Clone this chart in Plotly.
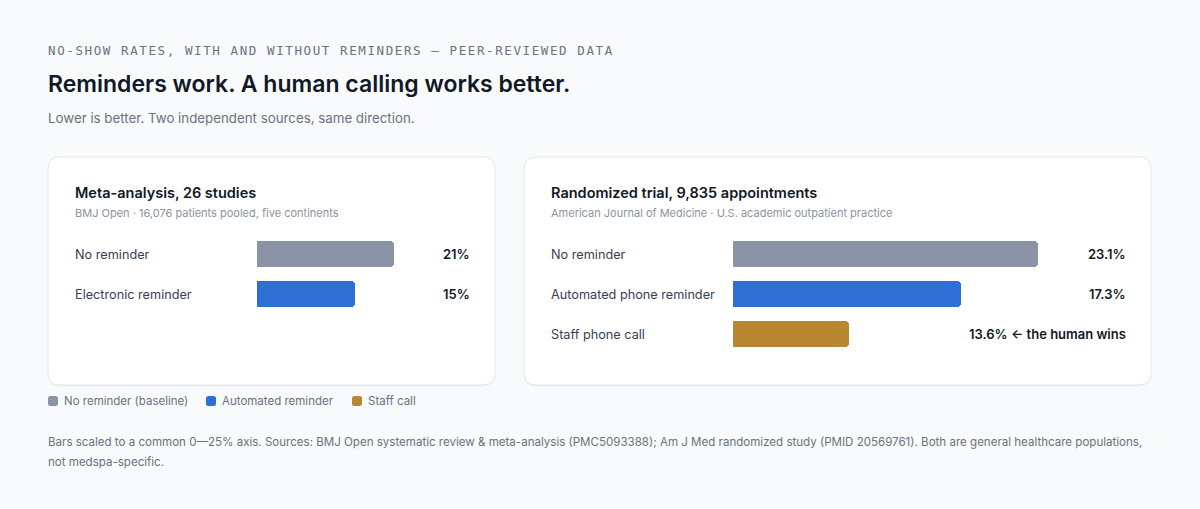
import plotly.graph_objects as go

# ---------------- data ----------------
eyebrow = "NO-SHOW RATES, WITH AND WITHOUT REMINDERS — PEER-REVIEWED DATA"
title = "Reminders work. A human calling works better."
subtitle = "Lower is better. Two independent sources, same direction."

meta_title = "Meta-analysis, 26 studies"
meta_source = "BMJ Open · 16,076 patients pooled, five continents"
meta_labels = ["No reminder", "Electronic reminder"]
meta_values = [21, 15]
meta_value_text = ["21%", "15%"]
meta_kinds = ["baseline", "automated"]

trial_title = "Randomized trial, 9,835 appointments"
trial_source = "American Journal of Medicine · U.S. academic outpatient practice"
trial_labels = ["No reminder", "Automated phone reminder", "Staff phone call"]
trial_values = [23.1, 17.3, 13.6]
trial_value_text = ["23.1%", "17.3%", "13.6% ← the human wins"]
trial_kinds = ["baseline", "automated", "staff"]

legend_kinds = ["baseline", "automated", "staff"]
legend_names = ["No reminder (baseline)", "Automated reminder", "Staff call"]

axis_max = 25  # common 0–25% axis

footer_1 = ("Bars scaled to a common 0—25% axis. Sources: BMJ Open systematic review & meta-analysis "
            "(PMC5093388); Am J Med randomized study (PMID 20569761). Both are general healthcare populations,")
footer_2 = "not medspa-specific."

# ---------------- styling ----------------
W, H = 1200, 509
COLORS = {"baseline": "#8a94a6", "automated": "#2f6fd3", "staff": "#b98731"}
BG = "#f8fafc"
FONT = "Inter"
MONO = "DejaVu Sans Mono"
PAD = 2  # annotation inner offset


def px(x):
    return x / W


def py(y):
    return 1 - y / H


def rrect(x0, y0, x1, y1, r):
    pts = [
        f"M {px(x0 + r)},{py(y0)}",
        f"L {px(x1 - r)},{py(y0)}",
        f"Q {px(x1)},{py(y0)} {px(x1)},{py(y0 + r)}",
        f"L {px(x1)},{py(y1 - r)}",
        f"Q {px(x1)},{py(y1)} {px(x1 - r)},{py(y1)}",
        f"L {px(x0 + r)},{py(y1)}",
        f"Q {px(x0)},{py(y1)} {px(x0)},{py(y1 - r)}",
        f"L {px(x0)},{py(y0 + r)}",
        f"Q {px(x0)},{py(y0)} {px(x0 + r)},{py(y0)}",
        "Z",
    ]
    return " ".join(pts)


fig = go.Figure()
shapes = []
annotations = []


def text(x, y, s, size, color, weight=400, family=FONT, xanchor="left"):
    xx = x - PAD if xanchor == "left" else x + PAD + 1
    annotations.append(dict(
        x=px(xx), y=py(y), xref="paper", yref="paper", text=s, showarrow=False,
        xanchor=xanchor, yanchor="middle", align="left",
        font=dict(size=size, color=color, family=family, weight=weight),
    ))


# header
text(48, 50, f'<span style="letter-spacing:1.6px">{eyebrow}</span>', 12.5, "#6b7280", family=MONO)
text(48, 84, title, 23, "#111827", weight=600)
text(48, 118, subtitle, 13.3, "#6b7280")

# cards
cards = [
    dict(x0=48, x1=495, title=meta_title, source=meta_source, labels=meta_labels,
         values=meta_values, vtext=meta_value_text, kinds=meta_kinds,
         bar_x=257, track_px=[163, 163], value_right=469),
    dict(x0=524, x1=1151, title=trial_title, source=trial_source, labels=trial_labels,
         values=trial_values, vtext=trial_value_text, kinds=trial_kinds,
         bar_x=733, track_px=[330, 330, 214], value_right=1125),
]
card_y0, card_y1 = 157, 385
row_y = [254, 294, 334]
bar_h = 26

ax = 0
for c in cards:
    shapes.append(dict(type="path", path=rrect(c["x0"], card_y0 + 1.5, c["x1"], card_y1 + 1.5, 12),
                       xref="paper", yref="paper", fillcolor="rgba(15,23,42,0.035)",
                       line=dict(width=0), layer="below"))
    shapes.append(dict(type="path", path=rrect(c["x0"], card_y0, c["x1"], card_y1, 12),
                       xref="paper", yref="paper", fillcolor="#ffffff",
                       line=dict(color="#e4e7ec", width=1), layer="below"))
    lx = c["x0"] + 27
    text(lx, 192, c["title"], 14.5, "#111827", weight=600)
    text(lx, 213, c["source"], 11, "#8b93a1")
    for i, (lab, val, vt, kind) in enumerate(zip(c["labels"], c["values"], c["vtext"], c["kinds"])):
        ax += 1
        yc = row_y[i]
        xa = "xaxis" if ax == 1 else f"xaxis{ax}"
        ya = "yaxis" if ax == 1 else f"yaxis{ax}"
        fig.update_layout({
            xa: dict(domain=[px(c["bar_x"]), px(c["bar_x"] + c["track_px"][i])], range=[0, axis_max],
                     visible=False, fixedrange=True, anchor="y" if ax == 1 else f"y{ax}"),
            ya: dict(domain=[py(yc + bar_h / 2), py(yc - bar_h / 2)], range=[-0.5, 0.5],
                     visible=False, fixedrange=True, anchor="x" if ax == 1 else f"x{ax}"),
        })
        fig.add_trace(go.Bar(
            x=[val], y=[0], orientation="h", width=1,
            marker=dict(color=COLORS[kind], cornerradius=4, line=dict(width=0)),
            xaxis="x" if ax == 1 else f"x{ax}", yaxis="y" if ax == 1 else f"y{ax}",
            showlegend=False, hoverinfo="skip", name=lab,
        ))
        text(lx, yc, lab, 12.7, "#374151")
        text(c["value_right"], yc, vt, 13, "#111827", weight=600, xanchor="right")

# legend
leg_x = [48, 206, 352]
for k, name, x in zip(legend_kinds, legend_names, leg_x):
    shapes.append(dict(type="path", path=rrect(x, 396, x + 10, 406, 2.5), xref="paper", yref="paper",
                       fillcolor=COLORS[k], line=dict(width=0)))
    text(x + 16, 401, name, 11.5, "#6b7280")

# footer
text(48, 442, footer_1, 11.55, "#6b7280")
text(48, 462, footer_2, 11.55, "#6b7280")

fig.update_layout(
    width=W, height=H, margin=dict(l=0, r=0, t=0, b=0),
    paper_bgcolor=BG, plot_bgcolor="rgba(0,0,0,0)",
    shapes=shapes, annotations=annotations, bargap=0,
    font=dict(family=FONT),
)
fig.write_html("out.html", config={"displayModeBar": False})
